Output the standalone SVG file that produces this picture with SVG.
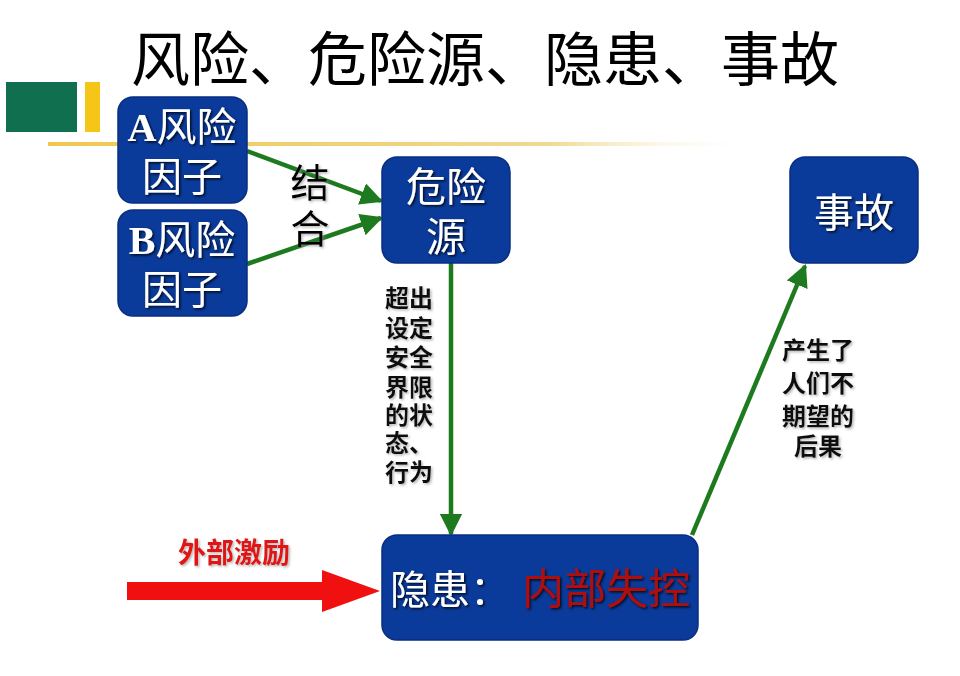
<svg xmlns="http://www.w3.org/2000/svg" width="960" height="676" viewBox="0 0 960 676">
<defs>
<style>
.node{fill:#0a3a9a;stroke:#0a2e80;stroke-width:1.5}
.ntxt{font-family:"Liberation Serif","Noto Sans CJK SC",serif;font-size:40px;fill:#fff;text-anchor:middle;filter:url(#sh)}
.lbl{font-family:"Noto Sans CJK SC","Liberation Sans",sans-serif;font-weight:bold;font-size:24px;fill:#111;text-anchor:middle;filter:url(#sh2)}
.conn{stroke:#1e7a1e;stroke-width:4.5;fill:none;marker-end:url(#ah)}
</style>
<marker id="ah" viewBox="0 0 10 10" refX="9" refY="5" markerWidth="5" markerHeight="5" orient="auto" markerUnits="strokeWidth">
<path d="M0,0 L10,5 L0,10 z" fill="#1e7a1e"/>
</marker>
<filter id="sh" x="-10%" y="-10%" width="130%" height="130%">
<feDropShadow dx="1.5" dy="1.5" stdDeviation="0.8" flood-color="#000" flood-opacity="0.8"/>
</filter>
<filter id="sh2" x="-10%" y="-10%" width="130%" height="130%">
<feDropShadow dx="1.5" dy="1.5" stdDeviation="1" flood-color="#888" flood-opacity="0.6"/>
</filter>
<linearGradient id="yl" x1="0" x2="1" y1="0" y2="0">
<stop offset="0" stop-color="#f0c850"/>
<stop offset="0.7" stop-color="#f0d890"/>
<stop offset="1" stop-color="#fff" stop-opacity="0"/>
</linearGradient>
</defs>
<rect width="960" height="676" fill="#fff"/>
<g id="decor">
<rect x="6" y="82" width="71" height="50" fill="#0f6f4f"/>
<rect x="85" y="82" width="15" height="50" fill="#f5c518"/>
<rect x="48" y="142" width="712" height="4" fill="url(#yl)"/>
</g>
<text id="title" x="485" y="81" font-family="Noto Sans CJK SC, sans-serif" font-size="59" fill="#000" text-anchor="middle">风险、危险源、隐患、事故</text>
<g id="connectors">
<line class="conn" x1="247" y1="151" x2="381" y2="201"/>
<line class="conn" x1="247" y1="264" x2="381" y2="218"/>
<line class="conn" x1="451" y1="263" x2="451" y2="534"/>
<line class="conn" x1="692" y1="535" x2="805" y2="266"/>
<path d="M127,582 H322 V570 L380,591 L322,612 V600 H127 Z" fill="#f01010"/>
</g>
<g id="labels">
<text x="310" font-family="Noto Sans CJK SC, sans-serif" font-size="39" fill="#000" text-anchor="middle" filter="url(#sh2)"><tspan x="310" y="197">结</tspan><tspan x="310" y="243">合</tspan></text>
<text class="lbl"><tspan x="409" y="307">超出</tspan><tspan x="409" y="337">设定</tspan><tspan x="409" y="366">安全</tspan><tspan x="409" y="396">界限</tspan><tspan x="409" y="424">的状</tspan><tspan x="409" y="452">态、</tspan><tspan x="409" y="481">行为</tspan></text>
<text class="lbl"><tspan x="818" y="359">产生了</tspan><tspan x="818" y="392">人们不</tspan><tspan x="818" y="425">期望的</tspan><tspan x="818" y="455">后果</tspan></text>
<text x="234" y="563" font-family="Noto Sans CJK SC, sans-serif" font-weight="bold" font-size="28" fill="#e01818" text-anchor="middle" filter="url(#sh2)">外部激励</text>
</g>
<g id="nodeA">
<rect class="node" x="118" y="97" width="129" height="106" rx="15"/>
<text class="ntxt" x="182" y="141"><tspan font-weight="bold">A</tspan>风险</text>
<text class="ntxt" x="182" y="191">因子</text>
</g>
<g id="nodeB">
<rect class="node" x="118" y="210" width="129" height="106" rx="15"/>
<text class="ntxt" x="182" y="254"><tspan font-weight="bold">B</tspan>风险</text>
<text class="ntxt" x="182" y="304">因子</text>
</g>
<g id="hazard">
<rect class="node" x="382" y="157" width="128" height="106" rx="15"/>
<text class="ntxt" x="446" y="201">危险</text>
<text class="ntxt" x="446" y="251">源</text>
</g>
<g id="accident">
<rect class="node" x="790" y="157" width="128" height="106" rx="15"/>
<text class="ntxt" x="854" y="227">事故</text>
</g>
<g id="hidden">
<rect class="node" x="382" y="535" width="316" height="105" rx="15"/>
<text class="ntxt" x="390" y="604" style="text-anchor:start">隐患：<tspan fill="#b01010" dx="12" font-size="42">内部失控</tspan></text>
</g>
</svg>
